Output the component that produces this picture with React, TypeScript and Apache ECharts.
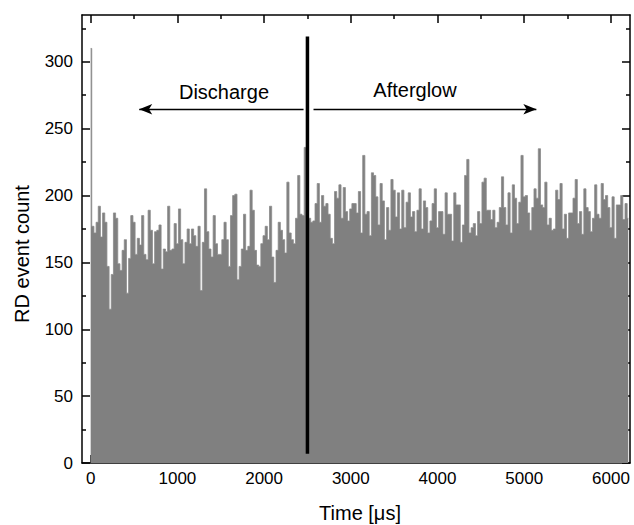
import React, { useEffect, useRef } from "react";
import * as echarts from "echarts";

// Histogram of RD events, 25 µs bins centred on t = 0, 25, 50, ...
const BIN_WIDTH = 25;
const counts: number[] = [
  // 0 – 1475 µs
  310, 177, 172, 180, 192, 169, 187, 180, 147, 115, 141, 187, 183, 149, 144, 159, 167, 127, 153, 185,
  180, 156, 168, 163, 185, 156, 152, 189, 174, 149, 173, 174, 178, 145, 160, 158, 192, 159, 160, 179,
  164, 190, 167, 149, 165, 175, 164, 175, 170, 162, 177, 129, 165, 205, 173, 160, 154, 185, 164, 156,
  // 1500 – 3025 µs
  156, 167, 180, 167, 147, 185, 200, 201, 137, 147, 160, 186, 159, 162, 204, 189, 159, 148, 147, 164,
  170, 177, 167, 192, 154, 135, 159, 180, 174, 167, 157, 210, 172, 167, 164, 183, 215, 186, 185, 236,
  189, 183, 180, 181, 194, 209, 180, 200, 192, 194, 186, 168, 164, 203, 198, 208, 183, 206, 188, 181,
  190, 194,
  // 3050 – 4625 µs
  194, 187, 203, 172, 230, 186, 188, 170, 217, 215, 199, 178, 209, 196, 167, 191, 174, 212, 204, 184,
  202, 175, 204, 176, 195, 202, 184, 188, 173, 189, 205, 175, 196, 191, 172, 181, 194, 205, 176, 188,
  188, 171, 202, 186, 186, 166, 202, 193, 193, 165, 178, 215, 227, 172, 176, 179, 170, 188, 179, 210,
  213, 189, 189, 182,
  // 4650 – 6200 µs
  189, 176, 180, 191, 214, 191, 178, 202, 172, 208, 198, 179, 195, 230, 199, 200, 187, 174, 191, 205,
  198, 235, 193, 191, 210, 178, 183, 174, 175, 204, 197, 209, 175, 186, 168, 187, 187, 198, 212, 179,
  188, 171, 205, 191, 188, 173, 183, 208, 186, 183, 209, 197, 200, 191, 176, 199, 168, 193, 193, 200,
  182, 194, 183,
];

const xMajorTicks = [0, 1000, 2000, 3000, 4000, 5000, 6000];
const xMinorTicks = [500, 1500, 2500, 3500, 4500, 5500];
const yMajorTicks = [0, 50, 100, 150, 200, 250, 300];
const yMinorTicks = [25, 75, 125, 175, 225, 275, 325];

const X_MIN = -100;
const X_MAX = 6220;
const Y_MIN = 0;
const Y_MAX = 335;

// separator between discharge and afterglow
const DIVIDER_TIME = 2500;
const DIVIDER_SPAN = [7, 319];
// arrows: [start time, end time (tip)], at count level ARROW_LEVEL
const dischargeArrow = [2455, 560];
const afterglowArrow = [2570, 5140];
const ARROW_LEVEL = 264.5;

const FONT = "'Liberation Sans', Arial, Helvetica, sans-serif";

export default function App() {
  const ref = useRef<HTMLDivElement>(null);

  useEffect(() => {
    if (!ref.current) return;
    const chart = echarts.init(ref.current, undefined, { renderer: "svg" });

    const axisLine = { show: true, onZero: false, lineStyle: { color: "#000", width: 1.5 } };
    const hiddenLine = { show: false, onZero: false };
    const xBase = { type: "value", min: X_MIN, max: X_MAX, splitLine: { show: false } };
    const yBase = { type: "value", min: Y_MIN, max: Y_MAX, splitLine: { show: false } };
    const majorTick = (vals: number[]) => ({
      show: true,
      inside: true,
      length: 8,
      customValues: vals,
      lineStyle: { color: "#000", width: 1.5 },
    });
    const minorTick = (vals: number[]) => ({
      show: true,
      inside: true,
      length: 4,
      customValues: vals,
      lineStyle: { color: "#000", width: 1.5 },
    });
    const noLabel = { show: false };
    const plain = (v: number) => String(v);

    const option: any = {
      animation: false,
      backgroundColor: "#fff",
      textStyle: { fontFamily: FONT },
      grid: { left: 82, right: 4, top: 15, bottom: 62, containLabel: false, outerBoundsMode: "none" },
      xAxis: [
        {
          ...xBase,
          position: "bottom",
          axisLine,
          axisTick: majorTick(xMajorTicks),
          axisLabel: {
            customValues: xMajorTicks,
            formatter: plain,
            fontSize: 17,
            color: "#000",
            margin: 7,
            fontFamily: FONT,
          },
        },
        { ...xBase, position: "bottom", axisLine: hiddenLine, axisTick: minorTick(xMinorTicks), axisLabel: noLabel },
        { ...xBase, position: "top", axisLine, axisTick: majorTick(xMajorTicks), axisLabel: noLabel },
        { ...xBase, position: "top", axisLine: hiddenLine, axisTick: minorTick(xMinorTicks), axisLabel: noLabel },
      ],
      yAxis: [
        {
          ...yBase,
          position: "left",
          axisLine,
          axisTick: majorTick(yMajorTicks),
          axisLabel: {
            customValues: yMajorTicks,
            formatter: plain,
            fontSize: 17,
            color: "#000",
            margin: 9,
            fontFamily: FONT,
          },
        },
        { ...yBase, position: "left", axisLine: hiddenLine, axisTick: minorTick(yMinorTicks), axisLabel: noLabel },
        { ...yBase, position: "right", axisLine, axisTick: majorTick(yMajorTicks), axisLabel: noLabel },
        { ...yBase, position: "right", axisLine: hiddenLine, axisTick: minorTick(yMinorTicks), axisLabel: noLabel },
      ],
      series: [
        {
          type: "line",
          xAxisIndex: 0,
          yAxisIndex: 0,
          step: "middle",
          symbol: "none",
          data: counts.map((c, i) => [i * BIN_WIDTH, c]),
          lineStyle: { color: "#8a8a8a", width: 0.8 },
          areaStyle: { color: "#808080", opacity: 1, origin: "start" },
          silent: true,
          z: 1,
        },
        {
          type: "line",
          xAxisIndex: 0,
          yAxisIndex: 0,
          data: DIVIDER_SPAN.map((v) => [DIVIDER_TIME, v]),
          symbol: "none",
          lineStyle: { color: "#000", width: 3.5 },
          silent: true,
          z: 3,
          markLine: {
            silent: true,
            symbol: ["none", "arrow"],
            symbolSize: [8, 13],
            label: { show: false },
            lineStyle: { color: "#000", width: 1.3, type: "solid" },
            data: [
              [{ coord: [dischargeArrow[0], ARROW_LEVEL] }, { coord: [dischargeArrow[1], ARROW_LEVEL] }],
              [{ coord: [afterglowArrow[0], ARROW_LEVEL] }, { coord: [afterglowArrow[1], ARROW_LEVEL] }],
            ],
          },
        },
      ],
      graphic: [
        {
          type: "text",
          x: 224,
          y: 92,
          style: { text: "Discharge", fontSize: 20, fontFamily: FONT, fill: "#000", align: "center", verticalAlign: "middle" },
        },
        {
          type: "text",
          x: 415,
          y: 90,
          style: { text: "Afterglow", fontSize: 20, fontFamily: FONT, fill: "#000", align: "center", verticalAlign: "middle" },
        },
        {
          type: "text",
          x: 360,
          y: 513,
          style: { text: "Time [μs]", fontSize: 20, fontFamily: FONT, fill: "#000", align: "center", verticalAlign: "middle" },
        },
        {
          type: "text",
          x: 22,
          y: 254,
          rotation: Math.PI / 2,
          style: { text: "RD event count", fontSize: 20, fontFamily: FONT, fill: "#000", align: "center", verticalAlign: "middle" },
        },
      ],
    };

    chart.setOption(option);
    return () => chart.dispose();
  }, []);

  return (
    <div
      ref={ref}
      style={{ position: "fixed", left: 0, top: 0, width: 634, height: 525, background: "#fff" }}
    />
  );
}
